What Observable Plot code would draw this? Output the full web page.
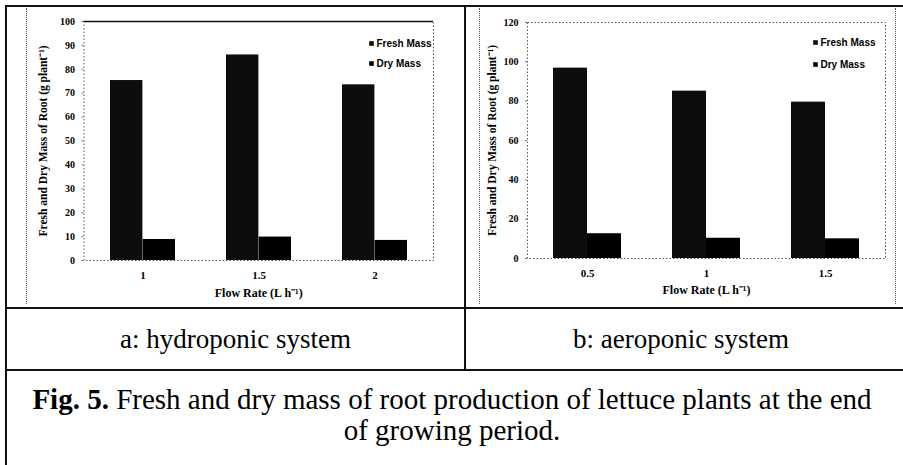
<!DOCTYPE html>
<html>
<head>
<meta charset="utf-8">
<script src="https://cdn.jsdelivr.net/npm/d3@7"></script>
<script src="https://cdn.jsdelivr.net/npm/@observablehq/plot@0.6"></script>
<style>
  html, body { margin: 0; padding: 0; background: #fff; }
  #page { position: relative; width: 903px; height: 465px; overflow: hidden; background: #fff; font-family: "Liberation Serif", "DejaVu Serif", serif; color: #000; }
  .line { position: absolute; background: #111; }
  .dotv { position: absolute; border-left: 1.5px dotted #555; width: 0; }
  .cap { position: absolute; text-align: center; font-size: 27px; line-height: 30px; white-space: nowrap; }
  .chart { position: absolute; }
</style>
</head>
<body>
<div id="page">
  <div class="line" style="left:5px; top:5px; width:898px; height:2px;"></div>
  <div class="line" style="left:5px; top:5px; width:2px; height:460px;"></div>
  <div class="line" style="left:464px; top:5px; width:2px; height:366px;"></div>
  <div class="line" style="left:5px; top:307px; width:898px; height:2px;"></div>
  <div class="line" style="left:5px; top:369px; width:898px; height:2px;"></div>
  <div class="dotv" style="left:26px; top:8px; height:296px;"></div>
  <div class="dotv" style="left:479px; top:8px; height:296px;"></div>
  <div class="dotv" style="left:895px; top:8px; height:296px;"></div>
  <div id="chartA" class="chart" style="left:27px; top:8px;"></div>
  <div id="chartB" class="chart" style="left:480px; top:8px;"></div>
  <div class="cap" style="left:7px; width:457px; top:324px;">a: hydroponic system</div>
  <div class="cap" style="left:466px; width:430px; top:324px;">b: aeroponic system</div>
  <div class="cap" style="left:7px; width:890px; top:384px; font-size:29px; line-height:31px;"><b>Fig. 5.</b> Fresh and dry mass of root production of lettuce plants at the end<br>of growing period.</div>
</div>
<script>
// ---- data ----
const seriesNames = ["Fresh Mass", "Dry Mass"];
const hydroRates = ["1", "1.5", "2"];
const hydroFresh = [75.3, 86.0, 73.5];
const hydroDry = [8.8, 9.8, 8.4];
const hydroTicks = [0, 10, 20, 30, 40, 50, 60, 70, 80, 90, 100];

const aeroRates = ["0.5", "1", "1.5"];
const aeroFresh = [96.8, 85.1, 79.5];
const aeroDry = [12.6, 10.3, 10.0];
const aeroTicks = [0, 20, 40, 60, 80, 100, 120];

const xLabel = "Flow Rate (L h\u207B\u00B9)";
const yLabel = "Fresh and Dry Mass of Root (g plant\u207B\u00B9)";
const colors = ["#0d0d0d", "#000000"];

function chart(o) {
  const table = o.rates.map((r, i) => ({rate: r, fresh: o.fresh[i], dry: o.dry[i]}));
  const plotW = o.width - o.ml - o.mr;
  const step = plotW / o.rates.length;
  const bw = step * (1 - o.pad);
  const yMax = o.ticks[o.ticks.length - 1];
  const legend = seriesNames.flatMap((name, i) => [
    Plot.dot([name], {frameAnchor: "top-right", dx: o.legDx - 5, dy: o.legDy[i], symbol: "square", r: 2.6, fill: colors[i]}),
    Plot.text([name], {frameAnchor: "top-right", dx: o.legDx, dy: o.legDy[i], text: d => d, textAnchor: "start", lineAnchor: "middle", fontSize: 10, fontWeight: "bold", fontFamily: "Liberation Sans Narrow, Liberation Sans, sans-serif"})
  ]);
  return Plot.plot({
    width: o.width,
    height: o.height,
    marginLeft: o.ml,
    marginRight: o.mr,
    marginTop: o.mt,
    marginBottom: o.mb,
    style: {fontFamily: "Liberation Serif, serif", fontWeight: "bold", fontSize: "10px", color: "#000", background: "transparent"},
    x: {type: "band", domain: o.rates, paddingInner: o.pad, paddingOuter: o.pad / 2},
    y: {domain: [0, yMax]},
    marks: [
      Plot.frame({stroke: "#555", strokeDasharray: "1.5,2"}),
      o.topSolid ? Plot.ruleY([yMax], {stroke: "#111", strokeWidth: 1.6}) : null,
      Plot.barY(table, {x: "rate", y: "fresh", fill: colors[0], insetRight: bw / 2}),
      Plot.barY(table, {x: "rate", y: "dry", fill: colors[1], insetLeft: bw / 2}),
      Plot.axisY({ticks: o.ticks, tickSize: 2, tickPadding: 7, stroke: "#777", label: null, fontSize: 10}),
      Plot.axisX({tickSize: 0, tickPadding: 11, label: null, fontSize: 11}),
      Plot.text([yLabel], {frameAnchor: "left", rotate: -90, dx: o.yTitleDx, text: d => d, textAnchor: "middle", lineAnchor: "middle", fontSize: 11.5, fontWeight: "bold"}),
      Plot.text([xLabel], {frameAnchor: "bottom", dy: o.xTitleDy, text: d => d, lineAnchor: "middle", fontSize: 12, fontWeight: "bold"}),
      ...legend
    ]
  });
}

document.getElementById("chartA").append(chart({
  rates: hydroRates, fresh: hydroFresh, dry: hydroDry, ticks: hydroTicks,
  width: 419, height: 297, ml: 56.5, mr: 13, mt: 13, mb: 45, pad: 0.44,
  topSolid: true, legDx: -57, legDy: [22, 42], yTitleDx: -40.5, xTitleDy: 33
}));
document.getElementById("chartB").append(chart({
  rates: aeroRates, fresh: aeroFresh, dry: aeroDry, ticks: aeroTicks,
  width: 415, height: 296, ml: 47, mr: 10, mt: 14, mb: 46, pad: 0.43,
  topSolid: false, legDx: -65, legDy: [20, 42], yTitleDx: -35, xTitleDy: 32
}));
</script>
</body>
</html>
